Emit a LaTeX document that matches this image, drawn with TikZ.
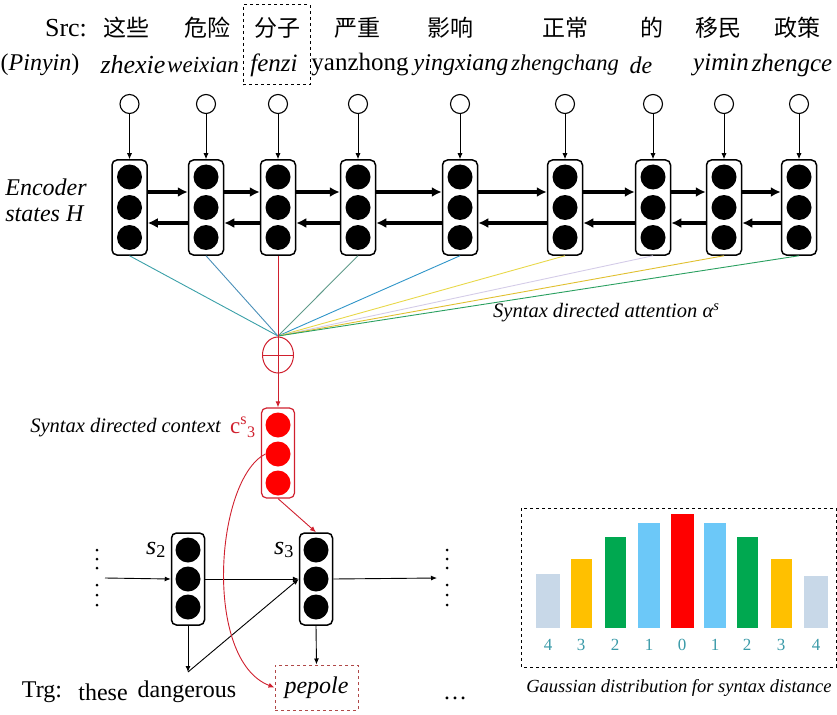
\documentclass[tikz,border=0pt]{standalone}
\usepackage{fontspec}
\setmainfont{Liberation Serif}
\newfontfamily\cjk{Noto Sans CJK SC}
\usetikzlibrary{arrows.meta,shapes.geometric,calc}
\definecolor{ctxred}{HTML}{D0202E}
\definecolor{pepred}{HTML}{B04848}
\definecolor{ca}{HTML}{3AA0A8}
\definecolor{cb}{HTML}{4A8FB8}
\definecolor{cd}{HTML}{5F9A8A}
\definecolor{ce}{HTML}{2F95C8}
\definecolor{cf}{HTML}{E8D84A}
\definecolor{cg}{HTML}{D4CCE8}
\definecolor{ch}{HTML}{E0C030}
\definecolor{ci}{HTML}{2AA060}
\definecolor{bgray}{HTML}{C8D8E8}
\definecolor{byel}{HTML}{FFC000}
\definecolor{bgreen}{HTML}{00A850}
\definecolor{bblue}{HTML}{6CC8F8}
\definecolor{numc}{HTML}{3A9AA8}
\begin{document}
\begin{tikzpicture}[x=1pt,y=-1pt,
  encbox/.style={draw, line width=1.5pt, rounded corners=5pt, minimum width=35pt, minimum height=95pt, inner sep=0pt},
  decbox/.style={encbox, minimum width=33pt, minimum height=92pt},
  ctxbox/.style={draw=ctxred, line width=1.2pt, rounded corners=5pt, minimum width=33pt, minimum height=90pt, inner sep=0pt},
  dot/.style={circle, fill=black, minimum size=25pt, inner sep=0pt},
  rdot/.style={circle, fill=red, minimum size=25pt, inner sep=0pt},
  inp/.style={circle, draw, line width=1.1pt, minimum size=19pt, inner sep=0pt},
  fwd/.style={line width=3.2pt, -{Latex[length=10pt,width=10pt]}},
  tarr/.style={line width=0.9pt, -{Latex[length=6pt,width=5pt]}},
  att/.style={line width=0.9pt},
  big/.style={inner sep=0pt, font=\fontsize{24}{28}\selectfont},
  pin/.style={inner sep=0pt, font=\fontsize{#1}{27}\selectfont\itshape},
  pin/.default=24,
  zh/.style={inner sep=0pt, font=\fontsize{23}{27}\selectfont\cjk},
  lab/.style={inner sep=0pt, font=\fontsize{20.5}{24}\selectfont\itshape},
  num/.style={inner sep=0pt, text=numc, font=\fontsize{17}{20}\selectfont},
]
\useasboundingbox (0,0) rectangle (837,714);

% source text
\node[big, font=\fontsize{26}{30}\selectfont] (src) at (66,28) {Src:};
\node[big] (pinlab) at (40,65) {(\textit{Pinyin})};
\foreach \i/\x/\w in {1/126/这些,2/207/危险,3/277/分子,4/357/严重,5/450/影响,6/565/正常,7/652/的,8/718/移民,9/797/政策}
  \node[zh] (zh\i) at (\x,28) {\w};
\node[pin=26] (py1) at (133,65) {zhexie};
\node[pin=23] (py2) at (203,65) {weixian};
\node[pin=25] (py3) at (274,65) {fenzi};
\node[inner sep=0pt, font=\fontsize{25}{29}\selectfont] (py4) at (360,65) {yanzhong};
\node[pin=24] (py5) at (461,65) {yingxiang};
\node[pin=22.5] (py6) at (565,65) {zhengchang};
\node[pin=24] (py7) at (641,65) {de};
\node[pin=25] (py8) at (721,65) {yimin};
\node[pin=25] (py9) at (792,65) {zhengce};
\node[draw, dashed, line width=1pt, minimum width=67pt, minimum height=80pt, inner sep=0pt] (hl) at (276.5,45) {};

% encoder
\node[inner sep=0pt, font=\fontsize{24}{28}\selectfont\itshape, align=left] (enc) at (46,200) {Encoder\\[-2pt]states \textit{H}};
\foreach \i/\x in {1/129.5,2/206,3/278,4/358,5/460,6/565,7/653,8/724,9/799} {
  \node[encbox] (e\i) at (\x,207.5) {};
  \node[dot] (e\i a) at (\x,177) {};
  \node[dot] (e\i b) at (\x,207.5) {};
  \node[dot] (e\i c) at (\x,237.5) {};
  \node[inp] (in\i) at (\x,104) {};
  \draw[tarr] (in\i) -- (e\i);
}
\foreach \i [count=\j from 2] in {1,...,8} {
  \draw[fwd] ([yshift=15.5pt]e\i.east) -- ([yshift=15.5pt]e\j.west);
  \draw[fwd] ([yshift=-15.5pt]e\j.west) -- ([yshift=-15.5pt]e\i.east);
}

% attention
\coordinate (conv) at (278,336);
\node[ellipse, draw=ctxred, line width=1pt, minimum width=31pt, minimum height=36pt, inner sep=0pt] (op) at (278,355) {};
\draw[att, ca] (e1.south) -- (conv);
\draw[att, cb] (e2.south) -- (conv);
\draw[att, cd] (e4.south) -- (conv);
\draw[att, ce] (e5.south) -- (conv);
\draw[att, cf] (e6.south) -- (conv);
\draw[att, cg] (e7.south) -- (conv);
\draw[att, ch] (e8.south) -- (conv);
\draw[att, ci] (e9.south) -- (conv);
\draw[att, ctxred] (e3.south) -- (op.north);
\draw[att, ctxred] (op.west) -- (op.east);
\draw[att, ctxred] (op.north) -- (op.south);
\node[lab, anchor=west] (attlab) at (493,313) {Syntax directed attention α\textsuperscript{s}};

% context
\node[ctxbox] (ctx) at (278,453) {};
\node[rdot] (ctxa) at (278,425) {};
\node[rdot] (ctxb) at (278,454) {};
\node[rdot] (ctxc) at (278,483) {};
\draw[tarr, ctxred] (op.south) -- (ctx.north);
\node[lab, anchor=east] (ctxlab) at (221,428) {Syntax directed context};
\node[inner sep=0pt, text=ctxred, font=\fontsize{23}{27}\selectfont] (cs) at (243,427) {c\textsuperscript{s}\textsubscript{3}};

% decoder
\node[decbox] (d2) at (188,579) {};
\node[dot] (d2a) at (188,550) {};
\node[dot] (d2b) at (188,579) {};
\node[dot] (d2c) at (188,607) {};
\node[decbox] (d3) at (316,579) {};
\node[dot] (d3a) at (316,550) {};
\node[dot] (d3b) at (316,579) {};
\node[dot] (d3c) at (316,607) {};
\node[inner sep=0pt, font=\fontsize{26}{30}\selectfont] (s2) at (156,550) {\textit{s}\textsubscript{2}};
\node[inner sep=0pt, font=\fontsize{26}{30}\selectfont] (s3) at (284,550) {\textit{s}\textsubscript{3}};
\coordinate (lstart) at (105,578);
\coordinate (rend) at (437,578);
\coordinate (elbow) at (188,672);
\draw[tarr] (lstart) -- (d2.west);
\draw[tarr] (d2.east) -- (d3.west);
\draw[tarr] (d3.east) -- (rend);
\draw[tarr] (d2.south) -- (elbow);
\draw[tarr] (elbow) -- (d3.west);
\foreach \y in {550,559,568,585,595,605} {
  \fill (97,\y) circle (1.5pt);
  \fill (447,\y) circle (1.5pt);
}

% target
\node[big] (trg) at (42,692) {Trg:};
\node[big] (w1) at (103,692) {these};
\node[big] (w2) at (187,692) {dangerous};
\node[draw=pepred, dashed, line width=1pt, minimum width=83pt, minimum height=45pt, inner sep=0pt, font=\fontsize{24}{28}\selectfont\itshape] (pep) at (316.5,687.5) {pepole};
\node[big] (ell) at (455,698) {\dots};
\draw[tarr] (d3.south) -- (pep.north);
\draw[tarr, ctxred] (ctx.south) -- (d3.north);
\draw[tarr, ctxred] (ctxb.west) .. controls (215,480) and (203,660) .. (pep.west);

% gaussian
\draw[dashed, line width=1pt] (521,508) rectangle (836,667);
\fill[bgray] (536,574) rectangle (560,628);
\fill[byel] (571,559) rectangle (592,628);
\fill[bgreen] (605,537) rectangle (626,628);
\fill[bblue] (638,523) rectangle (660,628);
\fill[red] (671,514) rectangle (694,628);
\fill[bblue] (704,523) rectangle (726,628);
\fill[bgreen] (737,537) rectangle (758,628);
\fill[byel] (771,559) rectangle (792,628);
\fill[bgray] (804,576) rectangle (828,628);
\foreach \i/\x/\n in {1/548/4,2/581/3,3/615/2,4/649/1,5/682/0,6/715/1,7/747/2,8/781/3,9/816/4}
  \node[num] (n\i) at (\x,645) {\n};
\node[lab, font=\fontsize{18.5}{22}\selectfont\itshape] (gcap) at (679,688) {Gaussian distribution for syntax distance};
\end{tikzpicture}
\end{document}
